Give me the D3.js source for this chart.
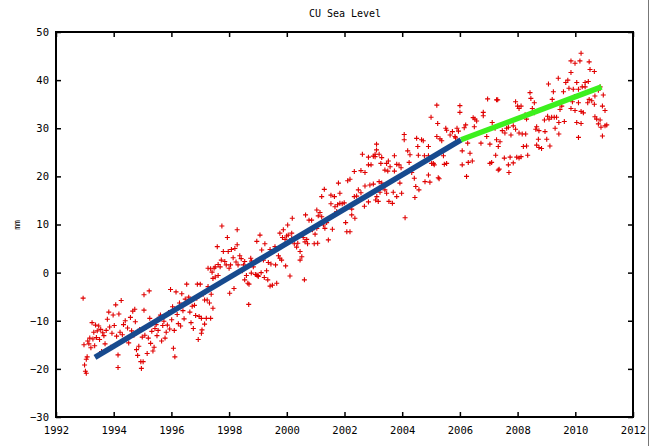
<!DOCTYPE html>
<html>
<head>
<meta charset="utf-8">
<script src="https://cdn.jsdelivr.net/npm/d3@7"></script>
<style>
  body { margin: 0; background: #fff; }
  svg { display: block; }
  text { font-family: "DejaVu Sans Mono", monospace; font-size: 10px; fill: #000; }
</style>
</head>
<body>
<svg></svg>
<script>
// ---- data: [decimal year, mm] ----
let obs1993to1996 = [
  [1992.94,-5.3],[1992.97,-15],[1992.99,-19.2],[1993.02,-20.5],[1993.05,-18],[1993.05,-20.9],[1993.08,-17.5],
  [1993.10,-14.2],[1993.14,-14.8],[1993.17,-13.6],[1993.21,-15.6],[1993.25,-10.4],[1993.28,-13.8],[1993.31,-12.4],
  [1993.34,-15.2],[1993.37,-10.9],[1993.40,-13.5],[1993.43,-12.1],[1993.48,-11.1],[1993.51,-13.9],[1993.55,-11.8],
  [1993.58,-16.4],[1993.62,-12.5],[1993.66,-13.1],[1993.70,-14.8],[1993.74,-12.0],[1993.78,-9.7],[1993.83,-8.2],
  [1993.86,-11.3],[1993.90,-15.5],[1993.94,-12.6],[1993.98,-8.8],
  [1994.02,-11.0],[1994.07,-6.7],[1994.10,-13.2],[1994.15,-17.1],[1994.15,-19.7],[1994.18,-8.6],[1994.22,-12.4],
  [1994.26,-5.8],[1994.30,-12.9],[1994.34,-10.8],[1994.40,-10],[1994.44,-13.8],[1994.48,-11.5],[1994.52,-14.6],
  [1994.58,-9.3],[1994.62,-12.1],[1994.66,-8.0],[1994.70,-13.0],[1994.73,-7.6],[1994.75,-10.2],[1994.79,-16.0],
  [1994.83,-17.2],[1994.87,-15.3],[1994.90,-11.8],[1994.94,-18.5],[1994.96,-19.9],[1994.99,-13.4],
  [1995.02,-18.5],[1995.05,-4.6],[1995.05,-7.8],[1995.08,-13.0],[1995.12,-11.4],[1995.16,-16.8],[1995.20,-13.6],
  [1995.23,-3.8],[1995.25,-9.5],[1995.28,-14.7],[1995.32,-12.2],[1995.36,-16.3],[1995.40,-15.5],[1995.43,-11.6],
  [1995.47,-10.8],[1995.50,-13.1],[1995.54,-12.0],[1995.58,-9.3],[1995.62,-8.8],[1995.66,-14.2],[1995.70,-11.0],
  [1995.74,-10.1],[1995.78,-13.6],[1995.82,-12.4],[1995.86,-10.9],[1995.90,-8.3],[1995.94,-11.7],[1995.97,-3.5],
  [1996.01,-9.8],[1996.04,-7.1],[1996.07,-15.7],[1996.10,-12.0],[1996.12,-17.5],[1996.16,-4.0],[1996.20,-8.7],
  [1996.24,-10.6],[1996.28,-6.3],[1996.32,-11.1],[1996.36,-4.4],[1996.40,-7.9],[1996.44,-9.6],[1996.48,-5.5],
  [1996.53,-2.4],[1996.56,-6.0],[1996.60,-5.1],[1996.64,-8.2],[1996.68,-10.4],[1996.72,-7.0],[1996.76,-11.6],
  [1996.80,-6.8],[1996.84,-8.9],[1996.88,-5.3],[1996.90,-2.4],[1996.93,-13.9],[1996.96,-9.1]
];

let obs1997to1998 = [
  [1997.00,-2.4],[1997.04,-9.5],[1997.04,-12.6],[1997.06,-11.9],[1997.10,-4.5],[1997.15,-5.7],[1997.15,-10.7],
  [1997.21,-9.5],[1997.24,-5.7],[1997.27,-2.9],[1997.27,0.9],[1997.32,-6.3],[1997.36,0.8],[1997.36,-9.5],
  [1997.38,-4.5],[1997.41,0.1],[1997.44,-1.2],[1997.44,-7.4],[1997.48,0.9],[1997.52,1.2],[1997.52,-0.9],
  [1997.59,5.4],[1997.62,1.7],[1997.62,-0.6],[1997.69,1.2],[1997.73,2.6],[1997.75,9.7],[1997.80,4.4],
  [1997.85,2.3],[1997.90,1.6],[1997.94,7.3],[1997.97,4.4],
  [1998.00,0.9],[1998.02,-4.3],[1998.05,1.6],[1998.08,4.8],[1998.14,3.1],[1998.17,-3.3],[1998.20,5.0],
  [1998.24,2.2],[1998.28,8.9],[1998.28,5.8],[1998.31,1.6],[1998.37,3.5],[1998.42,2.9],[1998.46,0.4],
  [1998.50,1.6],[1998.54,2.3],[1998.54,-1.5],[1998.60,-0.6],[1998.65,-2.2],[1998.68,-6.6],[1998.69,-2.4],
  [1998.75,3.0],[1998.77,-0.1],[1998.78,2.4],[1998.84,1.2],[1998.91,-0.4],[1998.96,6.5],[1999.00,-0.6]
];

let obs1999to2002 = [
  [1998.96,-0.5],[1999.01,-0.8],[1999.07,7.8],[1999.11,0.0],[1999.13,4.7],[1999.19,2.6],[1999.22,-1.0],
  [1999.24,6.0],[1999.30,0.4],[1999.34,-1.5],[1999.36,2.1],[1999.42,4.8],[1999.42,-2.8],[1999.45,1.8],
  [1999.50,-2.6],[1999.53,4.4],[1999.59,5.4],[1999.61,1.6],[1999.65,-2.2],[1999.71,3.5],[1999.76,3.0],
  [1999.76,8.2],[1999.82,2.6],[1999.85,7.3],[1999.88,8.9],[1999.94,6.9],[1999.96,1.4],[1999.99,7.6],
  [2000.03,9.9],[2000.05,7.8],[2000.11,-0.7],[2000.17,8.2],[2000.17,7.1],[2000.19,11.3],[2000.26,6.0],
  [2000.34,5.3],[2000.38,6.1],[2000.46,4.4],[2000.46,2.6],[2000.52,3.3],[2000.57,7.3],[2000.61,-1.5],
  [2000.63,6.4],[2000.65,12.0],[2000.69,6.9],[2000.72,6.0],[2000.77,10.9],[2000.86,10.9],[2000.89,8.9],
  [2000.95,6.0],[2000.98,8.0],[2001.04,13.0],[2001.04,9.2],[2001.07,6.1],[2001.09,11.8],[2001.15,12.5],
  [2001.21,11.6],[2001.21,15.8],[2001.27,9.9],[2001.30,17.3],[2001.32,9.2],[2001.38,10.4],[2001.44,6.8],
  [2001.53,14.3],[2001.53,16.1],[2001.58,9.0],[2001.65,15.8],[2001.67,13.7],[2001.73,12.7],[2001.76,14.1],
  [2001.79,18.6],[2001.84,16.5],[2001.84,14.4],[2001.92,14.3],[2001.99,14.5],[2002.04,10.4],[2002.08,8.5],
  [2002.11,19.1],[2002.19,19.4],[2002.19,8.5],[2002.25,12.0],[2002.25,13.2],[2002.34,15.8],[2002.34,21.0],
  [2002.36,11.3],[2002.42,15.9],[2002.48,17.2],[2002.57,16.6],[2002.57,21.2],[2002.62,24.6],[2002.69,13.8],
  [2002.71,20.8],[2002.71,18.0],[2002.83,22.4],[2002.83,24.0],[2002.83,14.7],[2002.88,18.2],[2002.92,22.4],
  [2003.00,24.2],[2003.00,18.4]
];

let obs2003to2006 = [
  [2003.06,24.6],[2003.06,17.0],[2003.06,24.1],[2003.08,15.1],[2003.11,26.7],[2003.11,25.5],[2003.12,15.8],
  [2003.17,14.8],[2003.20,24.6],[2003.20,18.9],[2003.23,16.7],[2003.26,22.7],[2003.29,23.9],[2003.29,18.6],
  [2003.40,21.3],[2003.40,17.2],[2003.46,22.7],[2003.46,16.5],[2003.50,21.1],[2003.52,23.2],[2003.54,14.8],
  [2003.58,22.0],[2003.66,14.4],[2003.69,16.7],[2003.73,24.3],[2003.73,21.1],[2003.81,22.5],[2003.81,15.8],
  [2003.89,22.4],[2003.92,18.6],[2003.96,21.8],[2003.98,16.5],[2004.07,28.7],[2004.07,27.6],[2004.10,11.4],
  [2004.15,20.8],[2004.19,25.3],[2004.24,22.9],[2004.27,24.5],[2004.33,20.8],[2004.42,19.6],[2004.44,15.6],
  [2004.47,17.9],[2004.50,27.9],[2004.54,26.2],[2004.56,24.4],[2004.58,17.2],[2004.67,27.6],[2004.73,27.4],
  [2004.77,24.3],[2004.79,18.9],[2004.91,26.2],[2004.91,24.3],[2004.91,20.3],[2004.96,18.8],[2005.00,32.3],
  [2005.02,22.7],[2005.08,22.7],[2005.11,22.4],[2005.20,28.3],[2005.20,34.8],[2005.23,31.0],[2005.25,19.7],
  [2005.28,19.5],[2005.31,27.8],[2005.37,27.4],[2005.43,24.3],[2005.46,22.5],[2005.51,30.0],[2005.54,29.6],
  [2005.54,22.7],[2005.66,28.6],[2005.74,29.3],[2005.83,28.3],[2005.85,28.0],[2005.90,30.0],[2005.95,29.4],
  [2006.00,34.7],[2006.00,33.3],[2006.08,25.3],[2006.08,22.4],[2006.15,30.1],[2006.20,30.7],[2006.23,20.0],
  [2006.27,26.9],[2006.29,22.9],[2006.35,24.8],[2006.43,23.2],[2006.46,32.2],[2006.50,30.3],[2006.52,31.9],
  [2006.58,31.5],[2006.73,26.9],[2006.81,33.3],[2006.81,32.6],[2006.93,28.3],[2006.96,36.1],[2007.04,26.7],
  [2007.04,22.7],[2007.10,22.9],[2007.12,31.2],[2007.22,30.0],[2007.24,24.4],[2007.27,35.9],[2007.33,21.3]
];

let obs2007to2011 = [
  [2007.27,27.6],[2007.31,35.9],[2007.33,26.2],[2007.36,21.5],[2007.39,27.2],[2007.47,29.5],[2007.54,23.8],
  [2007.56,29.0],[2007.62,30.0],[2007.68,22.4],[2007.68,30.2],[2007.70,20.8],[2007.74,24.0],[2007.77,28.6],
  [2007.85,22.8],[2007.85,30.5],[2007.93,35.5],[2007.93,29.8],[2007.97,24.0],[2008.00,34.6],[2008.05,34.1],
  [2008.05,29.0],[2008.05,23.8],[2008.12,34.6],[2008.12,24.1],[2008.16,28.8],[2008.20,26.2],[2008.26,32.8],
  [2008.28,28.8],[2008.31,31.9],[2008.31,26.3],[2008.35,24.4],[2008.43,37.4],[2008.46,36.2],[2008.51,34.1],
  [2008.58,35.3],[2008.58,33.2],[2008.63,29.8],[2008.66,30.3],[2008.66,26.5],[2008.72,27.7],[2008.74,29.5],
  [2008.74,26.0],[2008.83,25.8],[2008.93,31.7],[2008.95,29.3],[2009.01,27.7],[2009.04,32.5],[2009.07,39.2],
  [2009.09,31.9],[2009.12,26.3],[2009.18,32.3],[2009.20,36.0],[2009.24,37.6],[2009.27,32.3],[2009.30,30.0],
  [2009.35,32.3],[2009.41,40.4],[2009.43,31.2],[2009.43,28.8],[2009.47,33.9],[2009.53,34.6],[2009.59,37.6],
  [2009.62,31.4],[2009.67,39.5],[2009.74,40.0],[2009.78,38.3],[2009.85,41.6],[2009.85,44.0],[2009.85,34.1],
  [2009.90,35.5],[2009.93,38.1],[2009.97,36.6],[2009.99,43.5],[2009.99,33.7],[2010.05,39.5],[2010.05,31.2],
  [2010.11,38.1],[2010.11,35.3],[2010.11,28.1],[2010.16,44.0],[2010.20,45.6],[2010.20,33.5],[2010.20,31.0],
  [2010.24,38.6],[2010.28,33.2],[2010.34,39.5],[2010.34,38.6],[2010.43,35.3],[2010.45,39.7],[2010.48,43.8],
  [2010.48,36.0],[2010.51,42.2],[2010.57,35.7],[2010.66,41.8],[2010.66,35.0],[2010.68,36.7],[2010.68,32.4],
  [2010.74,31.9],[2010.80,37.9],[2010.80,30.9],[2010.86,38.6],[2010.86,31.7],[2010.89,30.2],[2010.94,34.6],
  [2010.94,28.4],[2010.97,36.9],[2011.03,33.7],[2011.03,30.5],[2011.09,30.7]
];

// trend segments
let trendEarly = [[1993.35,-17.6],[2006.04,27.6]];
let trendLate = [[2006.04,27.6],[2010.91,38.6]];

let xTicks = [1992,1994,1996,1998,2000,2002,2004,2006,2008,2010,2012];
let yTicks = [-30,-20,-10,0,10,20,30,40,50];

let title = "CU Sea Level";
let yLabel = "mm";

let width = 650;
let height = 446;
let plotLeft = 56, plotRight = 633, plotTop = 32, plotBottom = 417;

let svg = d3.select("svg").attr("width", width).attr("height", height);

let xScale = d3.scaleLinear().domain([1992, 2012]).range([plotLeft, plotRight]);
let yScale = d3.scaleLinear().domain([-30, 50]).range([plotBottom, plotTop]);

let points = obs1993to1996.concat(obs1997to1998, obs1999to2002, obs2003to2006, obs2007to2011);

let drawAxes = () => {
    let tickLen = 5;
    let styleAxis = (g) => {
        g.select(".domain").remove();
        g.selectAll(".tick line").attr("stroke", "#000").attr("stroke-width", 1.5);
        g.selectAll(".tick text").attr("fill", "#000").style("font-size", "10.5px")
         .style("font-family", "'DejaVu Sans Mono', monospace");
    };

    svg.append("g")
       .attr("transform", "translate(0," + plotBottom + ")")
       .call(d3.axisBottom(xScale).tickValues(xTicks).tickFormat(d3.format("d"))
             .tickSizeInner(-tickLen).tickSizeOuter(0).tickPadding(10))
       .call(styleAxis);

    svg.append("g")
       .attr("transform", "translate(0," + plotTop + ")")
       .call(d3.axisTop(xScale).tickValues(xTicks).tickFormat("")
             .tickSizeInner(-tickLen).tickSizeOuter(0))
       .call(styleAxis);

    svg.append("g")
       .attr("transform", "translate(" + plotLeft + ",0)")
       .call(d3.axisLeft(yScale).tickValues(yTicks)
             .tickSizeInner(-tickLen).tickSizeOuter(0).tickPadding(7))
       .call(styleAxis);

    svg.append("g")
       .attr("transform", "translate(" + plotRight + ",0)")
       .call(d3.axisRight(yScale).tickValues(yTicks).tickFormat("")
             .tickSizeInner(-tickLen).tickSizeOuter(0))
       .call(styleAxis);

    svg.append("rect")
       .attr("x", plotLeft).attr("y", plotTop)
       .attr("width", plotRight - plotLeft).attr("height", plotBottom - plotTop)
       .attr("fill", "none").attr("stroke", "#000").attr("stroke-width", 2);
};

let drawPoints = () => {
    svg.append("g")
       .selectAll("path")
       .data(points)
       .enter()
       .append("path")
       .attr("transform", (d) => "translate(" + xScale(d[0]) + "," + yScale(d[1]) + ")")
       .attr("d", "M-2.5,0H2.5M0,-2.5V2.5")
       .attr("stroke", "#e00000")
       .attr("stroke-width", 1.1)
       .attr("fill", "none");
};

let drawTrends = () => {
    let line = d3.line().x((d) => xScale(d[0])).y((d) => yScale(d[1]));
    svg.append("path").datum(trendEarly).attr("d", line)
       .attr("stroke", "#174a8e").attr("stroke-width", 5.5).attr("fill", "none");
    svg.append("path").datum(trendLate).attr("d", line)
       .attr("stroke", "#3cf01e").attr("stroke-width", 5.5).attr("fill", "none");
};

let drawLabels = () => {
    svg.append("text")
       .attr("x", 345).attr("y", 17)
       .attr("text-anchor", "middle")
       .text(title);

    svg.append("text")
       .attr("transform", "translate(20,225) rotate(-90)")
       .attr("text-anchor", "middle")
       .style("font-size", "8px")
       .text(yLabel);

    // right edge frame line visible in the picture
    svg.append("line")
       .attr("x1", width - 1.5).attr("x2", width - 1.5)
       .attr("y1", 0).attr("y2", height)
       .attr("stroke", "#777").attr("stroke-width", 1);
};

drawAxes();
drawPoints();
drawTrends();
drawLabels();
</script>
</body>
</html>
